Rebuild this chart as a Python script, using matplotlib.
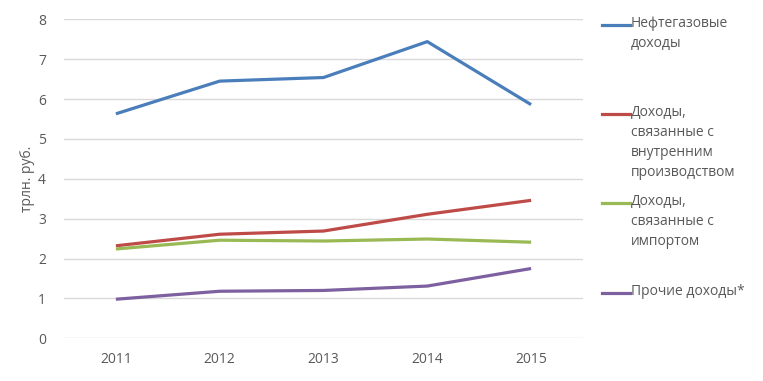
import matplotlib.pyplot as plt
from matplotlib.lines import Line2D

plt.rcParams['font.family'] = ['Open Sans', 'DejaVu Sans']

years = [2011, 2012, 2013, 2014, 2015]
oil_gas = [5.63, 6.45, 6.54, 7.44, 5.86]
domestic = [2.32, 2.61, 2.69, 3.11, 3.46]
imports = [2.24, 2.46, 2.44, 2.49, 2.41]
other = [0.98, 1.18, 1.20, 1.31, 1.75]

labels = ['Нефтегазовые\nдоходы',
          'Доходы,\nсвязанные с\nвнутренним\nпроизводством',
          'Доходы,\nсвязанные с\nимпортом',
          'Прочие доходы*']
colors = ['#4a7ebb', '#be4b48', '#98b954', '#7d60a0']
series = [oil_gas, domestic, imports, other]

grey = '#595959'

fig = plt.figure(figsize=(7.63, 3.81), dpi=100)
ax = fig.add_axes([64 / 763, 1 - 338.3 / 381, (583 - 64) / 763, (338.3 - 19.3) / 381])

for vals, c in zip(series, colors):
    ax.plot(years, vals, color=c, lw=2.3, solid_capstyle='butt', zorder=3)

ax.set_xlim(2010.5, 2015.5)
ax.set_ylim(0, 8)
ax.set_xticks(years)
ax.set_yticks(range(0, 9))
ax.grid(axis='y', color='#d9d9d9', lw=1)
ax.set_axisbelow(True)
for s in ax.spines.values():
    s.set_visible(False)
ax.tick_params(length=0, colors=grey, labelsize=10)
ax.tick_params(axis='y', pad=13)
ax.tick_params(axis='x', pad=10)
ax.set_ylabel('трлн. руб.', color=grey, fontsize=10, labelpad=2)

# legend on the right
legend_y = [25, 114, 203, 293]
for lab, c, y in zip(labels, colors, legend_y):
    fy = 1 - y / 381
    fig.add_artist(Line2D([602 / 763, 630 / 763], [fy, fy], color=c, lw=2.3,
                          transform=fig.transFigure))
    fig.text(631 / 763, fy + 9 / 381, lab, color=grey, fontsize=10, va='top',
             ha='left', linespacing=1.45, transform=fig.transFigure)

fig.savefig('out.png', dpi=100)
